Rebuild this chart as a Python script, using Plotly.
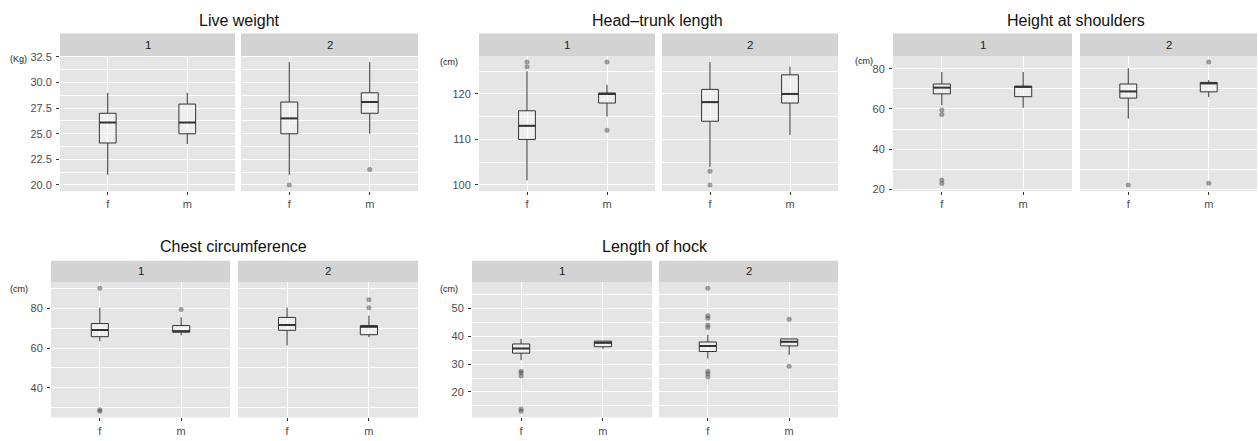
import plotly.graph_objects as go

W, H = 1259, 441

# ---------------- data (order: facet1-f, facet1-m, facet2-f, facet2-m) ----------------
facets = ["1", "2"]
sexes = ["f", "m"]

lw_low = [21.0, 24.0, 21.0, 25.0]
lw_q1 = [24.1, 25.0, 25.0, 27.0]
lw_med = [26.1, 26.1, 26.5, 28.1]
lw_q3 = [27.0, 27.9, 28.1, 29.0]
lw_high = [29.0, 29.0, 32.0, 32.0]
lw_out = [[], [], [20.0], [21.5]]

ht_low = [101.0, 115.0, 104.0, 111.0]
ht_q1 = [110.0, 118.0, 114.0, 118.0]
ht_med = [113.0, 120.0, 118.2, 120.0]
ht_q3 = [116.3, 120.2, 121.0, 124.2]
ht_high = [125.0, 122.0, 127.0, 126.0]
ht_out = [[126.0, 127.0], [112.0, 127.0], [100.0, 103.0], []]

hs_low = [61.9, 60.6, 55.2, 65.9]
hs_q1 = [67.5, 66.1, 65.4, 68.5]
hs_med = [70.6, 71.0, 68.7, 72.7]
hs_q3 = [72.4, 71.3, 72.4, 73.2]
hs_high = [78.4, 78.4, 80.3, 74.3]
hs_out = [[57.3, 59.5, 22.9, 24.7], [], [22.2], [23.0, 83.3]]

cc_low = [63.5, 66.4, 61.3, 65.4]
cc_q1 = [65.7, 68.0, 68.9, 66.7]
cc_med = [69.0, 68.4, 71.6, 70.7]
cc_q3 = [72.3, 71.3, 75.4, 71.3]
cc_high = [80.3, 75.4, 80.3, 76.3]
cc_out = [[90.0, 29.0, 28.2], [79.4], [], [80.2, 84.3]]

lh_low = [31.4, 35.5, 32.0, 33.3]
lh_q1 = [33.9, 36.2, 34.5, 36.5]
lh_med = [35.6, 37.6, 36.5, 38.0]
lh_q3 = [37.2, 38.2, 37.9, 39.0]
lh_high = [39.0, 38.2, 40.5, 39.0]
lh_out = [[27.4, 26.9, 25.7, 13.9, 13.1], [], [57.1, 47.3, 46.4, 44.0, 43.1, 27.4, 26.5, 25.4], [46.0, 29.2]]

titles = ["Live weight", "Head\u2013trunk length", "Height at shoulders",
          "Chest circumference", "Length of hock"]
units = ["(Kg)", "(cm)", "(cm)", "(cm)", "(cm)"]
tick_formats = [".1f", "d", "d", "d", "d"]

measures = [
    (lw_low, lw_q1, lw_med, lw_q3, lw_high, lw_out),
    (ht_low, ht_q1, ht_med, ht_q3, ht_high, ht_out),
    (hs_low, hs_q1, hs_med, hs_q3, hs_high, hs_out),
    (cc_low, cc_q1, cc_med, cc_q3, cc_high, cc_out),
    (lh_low, lh_q1, lh_med, lh_q3, lh_high, lh_out),
]

# ---------------- layout geometry (pixels) ----------------
geom = [
    dict(fx=[(60, 235), (241, 418)], top=52, bot=190, strip=29, tx=239, ty=16, ux=8, uy=55, dt=2.5),
    dict(fx=[(479, 655), (662, 838)], top=52, bot=190, strip=29, tx=657, ty=16, ux=438, uy=58, dt=10),
    dict(fx=[(893, 1072), (1080, 1257)], top=52, bot=190, strip=29, tx=1076, ty=16, ux=853, uy=57, dt=20),
    dict(fx=[(51, 230), (238, 418)], top=283, bot=421, strip=261, tx=233, ty=247, ux=8, uy=290, dt=20),
    dict(fx=[(472, 652), (659, 838)], top=283, bot=421, strip=261, tx=655, ty=247, ux=438, uy=290, dt=10),
]

PANEL_BG = "#E5E5E5"
STRIP_BG = "#D3D3D3"
LINE = "#333333"
TICK_TXT = "#4D4D4D"
FONT = "Liberation Sans, Arial, sans-serif"
BOX_W = 0.21


def px(x):
    return x / W


def py(y):
    return 1 - y / H


fig = go.Figure()
layout = dict(
    width=W, height=H, margin=dict(l=0, r=0, t=0, b=0),
    paper_bgcolor="white", plot_bgcolor=PANEL_BG, showlegend=False,
    font=dict(family=FONT),
)
shapes, annotations = [], []

ax = 0
for p, (meas, g) in enumerate(zip(measures, geom)):
    low, q1, med, q3, high, out = meas
    allv = low + high + [v for o in out for v in o]
    lo, hi = min(allv), max(allv)
    pad = (hi - lo) * 0.05
    yr = [lo - pad, hi + pad]

    for fi, (x0, x1) in enumerate(g["fx"]):
        ax += 1
        xn = "x" if ax == 1 else f"x{ax}"
        yn = "y" if ax == 1 else f"y{ax}"
        layout["xaxis" if ax == 1 else f"xaxis{ax}"] = dict(
            domain=[px(x0), px(x1)], anchor=yn, range=[-0.6, 1.6],
            tickmode="array", tickvals=[0, 1], ticktext=sexes,
            showgrid=True, gridcolor="white", gridwidth=1.1,
            zeroline=False, showline=False,
            ticks="outside", ticklen=3, tickcolor=LINE, tickwidth=1,
            tickfont=dict(size=11, color=TICK_TXT, family=FONT),
            fixedrange=True,
        )
        layout["yaxis" if ax == 1 else f"yaxis{ax}"] = dict(
            domain=[py(g["bot"]), py(g["top"])], anchor=xn, range=yr,
            tick0=0, dtick=g["dt"], tickformat=tick_formats[p],
            showgrid=True, gridcolor="white", gridwidth=1.1,
            minor=dict(tick0=0, dtick=g["dt"] / 2, showgrid=True,
                       gridcolor="white", gridwidth=0.5, ticks=""),
            zeroline=False, showline=False,
            ticks="outside" if fi == 0 else "", ticklen=3, tickcolor=LINE, tickwidth=1,
            showticklabels=(fi == 0), ticklabelstandoff=2,
            tickfont=dict(size=11, color=TICK_TXT, family=FONT),
            fixedrange=True,
        )
        shapes.append(dict(type="rect", xref="paper", yref="paper",
                           x0=px(x0), x1=px(x1), y0=py(g["top"]), y1=py(g["strip"]),
                           fillcolor=STRIP_BG, line=dict(width=0), layer="below"))
        annotations.append(dict(text=facets[fi], xref="paper", yref="paper",
                                x=px((x0 + x1) / 2), y=py((g["top"] + g["strip"]) / 2),
                                showarrow=False, xanchor="center", yanchor="middle",
                                font=dict(size=11.5, color="#1A1A1A", family=FONT)))
        for si in range(2):
            k = fi * 2 + si
            fig.add_trace(go.Box(
                x=[si], q1=[q1[k]], median=[med[k]], q3=[q3[k]],
                lowerfence=[low[k]], upperfence=[high[k]],
                width=BOX_W, whiskerwidth=0, boxpoints=False,
                line=dict(color=LINE, width=1), fillcolor="rgba(255,255,255,0.35)",
                xaxis=xn, yaxis=yn, hoverinfo="skip", showlegend=False,
            ))
            fig.add_trace(go.Scatter(
                x=[si - BOX_W / 2, si + BOX_W / 2], y=[med[k], med[k]], mode="lines",
                line=dict(color=LINE, width=2), xaxis=xn, yaxis=yn,
                hoverinfo="skip", showlegend=False,
            ))
            if out[k]:
                fig.add_trace(go.Scatter(
                    x=[si] * len(out[k]), y=out[k], mode="markers",
                    marker=dict(size=5, color="rgba(70,70,70,0.5)", line=dict(width=0)),
                    xaxis=xn, yaxis=yn, hoverinfo="skip", showlegend=False,
                ))

    annotations.append(dict(text=titles[p], xref="paper", yref="paper",
                            x=px(g["tx"]), y=py(g["ty"]), showarrow=False,
                            xanchor="center", yanchor="middle",
                            font=dict(size=16, color="#111111", family=FONT)))
    annotations.append(dict(text=units[p], xref="paper", yref="paper",
                            x=px(g["ux"]), y=py(g["uy"]), showarrow=False,
                            xanchor="left", yanchor="middle",
                            font=dict(size=9, color="#1A1A1A", family=FONT)))

layout["shapes"] = shapes
layout["annotations"] = annotations
fig.update_layout(**layout)
fig.write_html("out.html")
